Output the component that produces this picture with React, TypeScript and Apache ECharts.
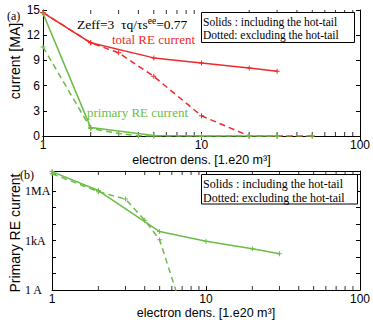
import React, { useEffect, useRef } from "react";
import * as echarts from "echarts";

// ---- data ----
const X_MINOR_TICKS = [2, 3, 4, 5, 6, 7, 8, 9, 20, 30, 40, 50, 60, 70, 80, 90];
const Y_LOG_LABELS: Record<string, string> = { "1": "1 A", "1000": "1kA", "1000000": "1MA" };
const Y_A_RANGE = [0, 15];
const Y_B_RANGE = [1, 1.6e7];

// panel (a): currents in MA
const X_TOTAL_SOLID = [1, 2, 5, 10, 20, 30];
const TOTAL_SOLID = [14.7, 11.1, 9.3, 8.7, 8.1, 7.7];
const X_TOTAL_DOTTED = [1, 2, 3, 5, 10, 20, 30, 50];
const TOTAL_DOTTED = [14.7, 11.1, 9.9, 7.1, 2.4, 0, 0, 0];
const X_PRIM_SOLID = [1, 2, 5, 10, 20, 30];
const PRIM_SOLID_MA = [14.6, 1.0, 0.05, 0, 0, 0];
const X_PRIM_DOTTED = [1, 2, 3, 4, 5, 10, 20, 30, 50];
const PRIM_DOTTED_MA = [10.6, 0.9, 0.3, 0.02, 0, 0, 0, 0, 0];

// panel (b): primary RE current in A (log scale)
const X_PRIM_SOLID_B = [1, 2, 5, 10, 20, 30];
const PRIM_SOLID_A = [1.47e7, 1.05e6, 3.5e3, 900, 320, 160];
const X_PRIM_DOTTED_B = [1, 2, 3, 4, 5, 10];
const PRIM_DOTTED_A = [1.1e7, 9e5, 3.2e5, 1.7e4, 1.1e3, 2e-6];

const RED = "#ee2a2a";
const GREEN = "#6cbd47";
const SERIF = "'Liberation Serif', 'Times New Roman', serif";
const SANS = "'Liberation Sans', Arial, sans-serif";
const PLUS = "path://M4,0H6V4H10V6H6V10H4V6H0V4H4Z";

const zip = (xs: number[], ys: number[]) => xs.map((x, i) => [x, ys[i]]);

function xAxisPair(grid: number, name: string, nameGap: number) {
  const common = {
    type: "log" as const,
    logBase: 10,
    gridIndex: grid,
    min: 1,
    max: 100,
    interval: 1,
    splitLine: { show: false },
    axisLine: { lineStyle: { color: "#000", width: 1 } },
    axisTick: { inside: true, length: 4, lineStyle: { color: "#000" } },
  };
  return [
    {
      ...common,
      position: "bottom",
      axisLabel: { color: "#000", fontFamily: SANS, fontSize: 12, margin: 3 },
      name,
      nameLocation: "middle",
      nameGap,
      nameTextStyle: { color: "#000", fontFamily: SANS, fontSize: 12.5 },
    },
    { ...common, position: "top", axisLabel: { show: false } },
  ];
}

function minorTicks(axis: number, yEdge: number, offset: number) {
  return {
    type: "scatter",
    xAxisIndex: axis * 2,
    yAxisIndex: axis * 2,
    data: X_MINOR_TICKS.map((x) => [x, yEdge]),
    symbol: "rect",
    symbolSize: [1, 4],
    symbolOffset: [0, offset],
    itemStyle: { color: "#000" },
    silent: true,
    clip: false,
    z: 1,
  };
}

export default function App() {
  const ref = useRef<HTMLDivElement>(null);
  useEffect(() => {
    if (!ref.current) return;
    const chart = echarts.init(ref.current, null, { renderer: "svg" });
    const lineSeries = (
      name: string,
      data: number[][],
      color: string,
      dashed: boolean,
      axis: number
    ) => ({
      name,
      type: "line",
      xAxisIndex: axis * 2,
      yAxisIndex: axis * 2,
      data,
      symbol: PLUS,
      symbolSize: 5,
      showSymbol: true,
      itemStyle: { color },
      lineStyle: { color, width: 1.5, type: dashed ? [6, 4] : "solid" },
      clip: true,
      z: dashed ? 3 : 4,
    });

    const yValueAxis = (position: string, labels: boolean) => ({
      type: "value",
      gridIndex: 0,
      min: Y_A_RANGE[0],
      max: Y_A_RANGE[1],
      interval: 3,
      position,
      splitLine: { show: false },
      axisLine: { show: true, lineStyle: { color: "#000", width: 1 } },
      axisTick: { show: true, inside: true, length: 4, lineStyle: { color: "#000" } },
      axisLabel: labels
        ? { color: "#000", fontFamily: SANS, fontSize: 12, margin: 3 }
        : { show: false },
    });
    const yLogAxis = (position: string, labels: boolean) => ({
      type: "log",
      logBase: 10,
      gridIndex: 1,
      min: Y_B_RANGE[0],
      max: Y_B_RANGE[1],
      interval: 1,
      position,
      splitLine: { show: false },
      axisLine: { show: true, lineStyle: { color: "#000", width: 1 } },
      axisTick: { show: true, inside: true, length: 4, lineStyle: { color: "#000" } },
      axisLabel: labels
        ? {
            color: "#000",
            fontFamily: SERIF,
            fontSize: 12,
            margin: 27,
            align: "left",
            formatter: (v: number) => Y_LOG_LABELS[String(Math.round(v))] ?? "",
          }
        : { show: false },
    });

    chart.setOption({
      animation: false,
      grid: [
        { left: 43, top: 10, width: 317, height: 126 },
        { left: 52, top: 171, width: 308, height: 123 },
      ],
      xAxis: [
        ...xAxisPair(0, "electron dens. [1.e20 m³]", 17),
        ...xAxisPair(1, "electron dens. [1.e20 m³]", 14),
      ],
      yAxis: [
        yValueAxis("left", true),
        yValueAxis("right", false),
        yLogAxis("left", true),
        yLogAxis("right", false),
      ],
      series: [
        minorTicks(0, Y_A_RANGE[0], -2),
        minorTicks(0, Y_A_RANGE[1], 2),
        minorTicks(1, Y_B_RANGE[0], -2),
        minorTicks(1, Y_B_RANGE[1], 2),
        lineSeries("total dotted", zip(X_TOTAL_DOTTED, TOTAL_DOTTED), RED, true, 0),
        lineSeries("total solid", zip(X_TOTAL_SOLID, TOTAL_SOLID), RED, false, 0),
        lineSeries("primary dotted", zip(X_PRIM_DOTTED, PRIM_DOTTED_MA), GREEN, true, 0),
        lineSeries("primary solid", zip(X_PRIM_SOLID, PRIM_SOLID_MA), GREEN, false, 0),
        lineSeries("primary dotted b", zip(X_PRIM_DOTTED_B, PRIM_DOTTED_A), GREEN, true, 1),
        lineSeries("primary solid b", zip(X_PRIM_SOLID_B, PRIM_SOLID_A), GREEN, false, 1),
      ],
      graphic: [
        { type: "text", x: 7, y: 16, style: { text: "(a)", fill: "#000", font: `12px ${SERIF}`, verticalAlign: "middle" } },
        {
          type: "text",
          x: 15,
          y: 61,
          rotation: Math.PI / 2,
          style: { text: "current [MA]", fill: "#000", font: `14px ${SANS}`, align: "center", verticalAlign: "middle" },
        },
        {
          type: "text",
          x: 15,
          y: 233,
          rotation: Math.PI / 2,
          style: { text: "Primary RE current", fill: "#000", font: `14px ${SANS}`, align: "center", verticalAlign: "middle" },
        },
        {
          type: "text",
          x: 77,
          y: 24,
          style: {
            text: "{a|Zeff=3  τq/τs}{s|ee}{a|=0.77}",
            verticalAlign: "middle",
            rich: {
              a: { fill: "#000", fontFamily: SERIF, fontSize: 13.5, lineHeight: 16 },
              s: { fill: "#000", fontFamily: SERIF, fontSize: 9.5, verticalAlign: "top", lineHeight: 10 },
            },
          },
        },
        { type: "text", x: 112, y: 39, style: { text: "total RE current", fill: RED, font: `13px ${SERIF}`, verticalAlign: "middle" } },
        { type: "text", x: 87, y: 112, style: { text: "primary RE current", fill: GREEN, font: `13px ${SERIF}`, verticalAlign: "middle" } },
        { type: "rect", shape: { x: 201.5, y: 12.5, width: 153, height: 30 }, style: { fill: "#fff", stroke: "#000", lineWidth: 1 }, z: 10 },
        { type: "text", x: 203, y: 22, z: 11, style: { text: "Solids : including the hot-tail", fill: "#000", font: `11.5px ${SERIF}`, verticalAlign: "middle" } },
        { type: "text", x: 203, y: 34.5, z: 11, style: { text: "Dotted: excluding the hot-tail", fill: "#000", font: `11.5px ${SERIF}`, verticalAlign: "middle" } },
        { type: "text", x: 20, y: 175, style: { text: "(b)", fill: "#000", font: `12px ${SERIF}`, verticalAlign: "middle" } },
        { type: "rect", shape: { x: 201.5, y: 174.5, width: 156, height: 29.5 }, style: { fill: "#fff", stroke: "#000", lineWidth: 1 }, z: 10 },
        { type: "text", x: 203, y: 183.5, z: 11, style: { text: "Solids : including the hot-tail", fill: "#000", font: `12px ${SERIF}`, verticalAlign: "middle" } },
        { type: "text", x: 203, y: 197.5, z: 11, style: { text: "Dotted: excluding the hot-tail", fill: "#000", font: `12px ${SERIF}`, verticalAlign: "middle" } },
      ],
    });
    return () => chart.dispose();
  }, []);
  return <div ref={ref} style={{ width: 373, height: 320, position: "absolute", left: 0, top: 0, background: "#fff" }} />;
}
